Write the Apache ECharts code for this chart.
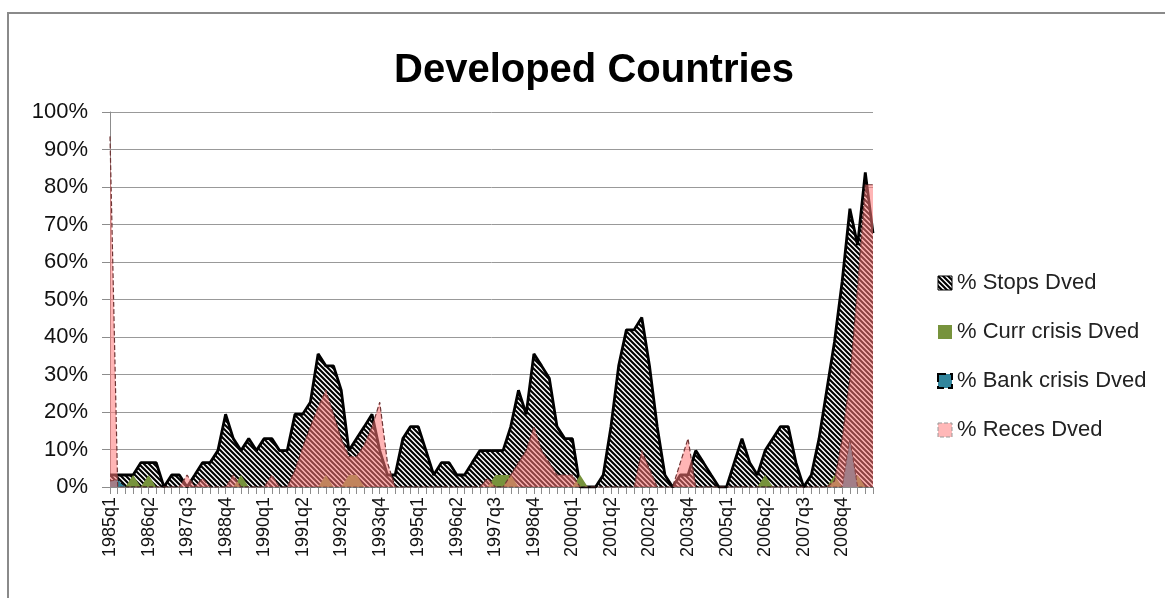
<!DOCTYPE html>
<html>
<head>
<meta charset="utf-8">
<title>Developed Countries</title>
<script src="https://cdn.jsdelivr.net/npm/echarts@6/dist/echarts.min.js"></script>
<style>
  html, body { margin: 0; padding: 0; background: #fff; }
  #chart { width: 1165px; height: 598px; }
</style>
</head>
<body>
<div id="chart"></div>
<script>
// quarterly categories 1985q1 .. 2009q4
const quarters = [];
for (let y = 1985; y <= 2009; y++) {
    for (let q = 1; q <= 4; q++) quarters.push(y + 'q' + q);
}

// values in percent
const stopsDved = [
    3.2, 3.2, 3.2, 3.2, 6.5, 6.5, 6.5, 0, 3.2, 3.2,
    0, 3.2, 6.5, 6.5, 9.7, 19.4, 12.9, 9.7, 12.9, 9.7,
    12.9, 12.9, 9.7, 9.7, 19.4, 19.4, 22.6, 35.5, 32.3, 32.3,
    25.8, 9.7, 12.9, 16.1, 19.4, 9.7, 3.2, 3.2, 12.9, 16.1,
    16.1, 9.7, 3.2, 6.5, 6.5, 3.2, 3.2, 6.5, 9.7, 9.7,
    9.7, 9.7, 16.1, 25.8, 19.4, 35.5, 32.3, 29.0, 16.1, 12.9,
    12.9, 0, 0, 0, 3.2, 16.1, 32.3, 41.9, 41.9, 45.2,
    32.3, 16.1, 3.2, 0, 3.2, 3.2, 9.7, 6.5, 3.2, 0,
    0, 6.5, 12.9, 6.5, 3.2, 9.7, 12.9, 16.1, 16.1, 6.5,
    0, 3.2, 12.9, 25.8, 38.7, 54.8, 74.2, 64.5, 83.9, 67.7
];

const currCrisisDved = [
    0, 0, 0, 3.2, 0, 3.2, 0, 0, 0, 0,
    0, 0, 0, 0, 0, 0, 0, 3.2, 0, 0,
    0, 0, 0, 0, 0, 0, 0, 0, 3.2, 0,
    0, 3.2, 3.2, 0, 0, 0, 0, 0, 0, 0,
    0, 0, 0, 0, 0, 0, 0, 0, 0, 0,
    3.2, 3.2, 3.2, 0, 0, 0, 0, 0, 0, 0,
    0, 3.2, 0, 0, 0, 0, 0, 0, 0, 0,
    0, 0, 0, 0, 0, 0, 0, 0, 0, 0,
    0, 0, 0, 0, 0, 3.2, 0, 0, 0, 0,
    0, 0, 0, 0, 3.2, 0, 0, 3.2, 0, 0
];

const bankCrisisDved = [
    1.6, 1.9, 0, 0, 0, 0, 0, 0, 0, 0,
    0, 0, 0, 0, 0, 0, 0, 0, 0, 0,
    0, 0, 0, 0, 0, 0, 0, 0, 0, 0,
    0, 0, 0, 0, 0, 0, 0, 0, 0, 0,
    0, 0, 0, 0, 0, 0, 0, 0, 0, 0,
    0, 0, 0, 0, 0, 0, 0, 0, 0, 0,
    0, 0, 0, 0, 0, 0, 0, 0, 0, 0,
    0, 0, 0, 0, 0, 0, 0, 0, 0, 0,
    0, 0, 0, 0, 0, 0, 0, 0, 0, 0,
    0, 0, 0, 0, 0, 0, 12.9, 0, 0, 0
];

const recesDved = [
    93.5, 0, 0, 0, 0, 0, 0, 0, 0, 0,
    3.2, 0, 2.3, 0, 0, 0, 3.2, 0, 0, 0,
    0, 3.2, 0, 0, 4.5, 10.6, 16.1, 21.3, 25.8, 19.4,
    12.9, 8.1, 8.1, 11.3, 16.1, 22.6, 6.5, 0, 0, 0,
    0, 0, 0, 0, 0, 0, 0, 0, 0, 2.3,
    0, 0, 3.2, 6.5, 9.7, 16.1, 9.7, 6.5, 3.2, 3.2,
    3.2, 0, 0, 0, 0, 0, 0, 0, 0, 9.7,
    4.8, 0, 0, 0, 6.5, 12.9, 0, 0, 0, 0,
    0, 0, 0, 0, 0, 0, 0, 0, 0, 0,
    0, 0, 0, 0, 1.6, 12.9, 29.0, 53.2, 80.6, 80.6
];

const FONT = '"Liberation Sans", Arial, sans-serif';

// black diagonal hatch like the Excel pattern fill
function hatch(fg, bg, size, width) {
    const c = document.createElement('canvas');
    c.width = c.height = size;
    const ctx = c.getContext('2d');
    if (bg) {
        ctx.fillStyle = bg;
        ctx.fillRect(0, 0, size, size);
    }
    ctx.strokeStyle = fg;
    ctx.lineWidth = width;
    ctx.beginPath();
    ctx.moveTo(0, 0); ctx.lineTo(size, size);
    ctx.moveTo(-size / 2, size / 2); ctx.lineTo(size / 2, size * 1.5);
    ctx.moveTo(size / 2, -size / 2); ctx.lineTo(size * 1.5, size / 2);
    ctx.stroke();
    return c;
}
const stopsFill = { image: hatch('#000', '#fff', 5, 2.1), repeat: 'repeat' };

const chart = echarts.init(document.getElementById('chart'));

const option = {
    animation: false,
    title: {
        text: 'Developed Countries',
        left: 389,
        top: 46,
        padding: 5,
        textStyle: { fontFamily: FONT, fontSize: 40, fontWeight: 'bold', color: '#000' }
    },
    graphic: [{
        type: 'rect',
        silent: true,
        shape: { x: 8, y: 13, width: 1300, height: 700 },
        style: { fill: 'none', stroke: '#8a8a8a', lineWidth: 2 }
    }],
    grid: { left: 110, right: 292, top: 112, bottom: 111 },
    legend: {
        orient: 'vertical',
        left: 932,
        top: 267,
        itemWidth: 14,
        itemHeight: 14,
        itemGap: 27,
        itemStyle: { borderWidth: 0 },
        selectedMode: false,
        textStyle: { fontFamily: FONT, fontSize: 22, color: '#222', lineHeight: 22 },
        data: [
            { name: '% Stops Dved', icon: 'rect', itemStyle: { color: stopsFill, borderColor: '#000', borderWidth: 1 } },
            { name: '% Curr crisis Dved', icon: 'rect', itemStyle: { color: '#77933C', borderWidth: 0 } },
            { name: '% Bank crisis Dved', icon: 'rect', itemStyle: { color: '#31859C', borderColor: '#000', borderWidth: 2, borderType: 'dashed' } },
            { name: '% Reces Dved', icon: 'rect', itemStyle: { color: '#FFB8B8', borderColor: '#999', borderWidth: 1, borderType: 'dashed' } }
        ]
    },
    xAxis: {
        type: 'category',
        data: quarters,
        boundaryGap: false,
        axisLine: { lineStyle: { color: '#8c8c8c', width: 1 } },
        axisTick: { interval: 0, length: 7, lineStyle: { color: '#8c8c8c' } },
        axisLabel: { interval: 4, rotate: 90, margin: 10, fontFamily: FONT, fontSize: 18, color: '#111' },
        splitLine: { show: false }
    },
    yAxis: {
        type: 'value',
        min: 0,
        max: 100,
        interval: 10,
        axisLine: { show: true, lineStyle: { color: '#8c8c8c' } },
        axisTick: { show: true, length: 8, lineStyle: { color: '#8c8c8c' } },
        axisLabel: { formatter: '{value}%', margin: 22, fontFamily: FONT, fontSize: 22, color: '#111' },
        splitLine: { lineStyle: { color: '#999', width: 1 } }
    },
    series: [
        {
            name: '% Stops Dved',
            type: 'line',
            data: stopsDved,
            symbol: 'none',
            z: 2,
            itemStyle: { color: '#000' },
            lineStyle: { color: '#000', width: 2.8 },
            areaStyle: { color: stopsFill, opacity: 1 }
        },
        {
            name: '% Curr crisis Dved',
            type: 'line',
            data: currCrisisDved,
            symbol: 'none',
            z: 3,
            itemStyle: { color: '#77933C' },
            lineStyle: { width: 0 },
            areaStyle: { color: '#77933C', opacity: 1 }
        },
        {
            name: '% Bank crisis Dved',
            type: 'line',
            data: bankCrisisDved,
            symbol: 'none',
            z: 4,
            itemStyle: { color: '#31859C' },
            lineStyle: { color: '#000', width: 1, type: 'dashed' },
            areaStyle: { color: '#31859C', opacity: 1 }
        },
        {
            name: '% Reces Dved',
            type: 'line',
            data: recesDved,
            symbol: 'none',
            z: 5,
            itemStyle: { color: '#FF7878' },
            lineStyle: { color: '#6e3434', width: 1.2, type: 'dashed' },
            areaStyle: { color: '#FF7878', opacity: 0.55 }
        }
    ]
};

chart.setOption(option);
</script>
</body>
</html>
